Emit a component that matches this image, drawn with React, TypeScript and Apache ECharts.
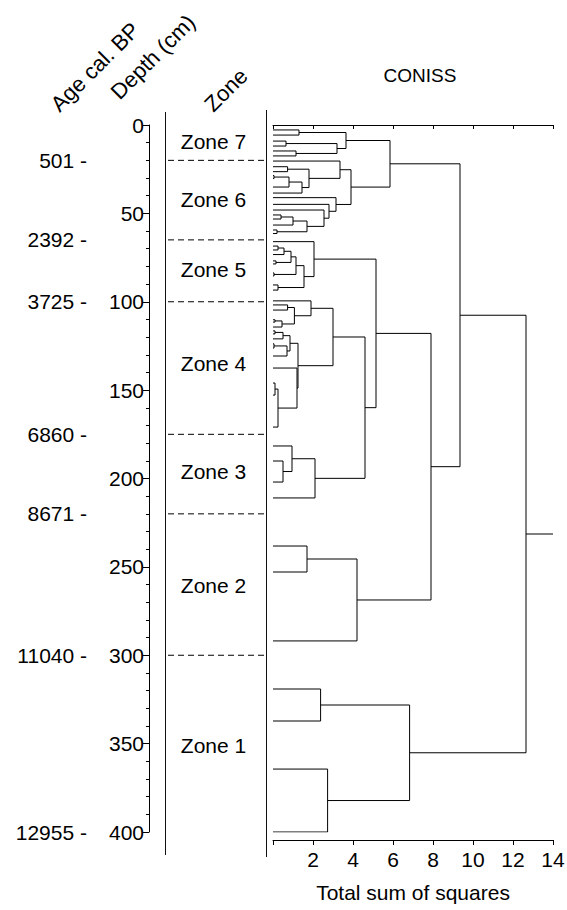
import React, { useEffect, useRef } from 'react';
import * as echarts from 'echarts';

const FONT = '"Liberation Sans", Arial, Helvetica, sans-serif';

// Sample depths (cm) of the dendrogram leaves, top to bottom
const sampleDepths = [
  2.8, 5.7, 9.1, 11.9, 14.7, 17.5,
  20.4, 23.6, 26.4, 28.6, 30.3, 35.1, 38.5, 41.1, 44.9, 48.1, 50.9, 53.2, 56.6, 59.4, 61.4,
  66.0, 68.5, 70.7, 73.3, 76.9, 78.6, 83.7, 85.4, 90.5, 93.4,
  99.5, 101.8, 104.7, 110.2, 111.5, 114.3, 116.5, 118.2, 121.0, 123.8, 126.2, 130.7, 137.5, 146.0, 152.8, 170.9,
  181.6, 190.1, 202.0, 211.0,
  238.2, 252.9, 291.9,
  319.1, 337.2, 364.4, 400,
];

// CONISS merges: [cluster id, left child, right child, total sum of squares]
// numbers = leaf index, strings = earlier cluster id
const merges: [string, number | string, number | string, number][] = [
  ['z7a', 0, 1, 1.3],
  ['z7b', 2, 3, 0.65],
  ['z7c', 4, 5, 1.15],
  ['z7d', 'z7b', 'z7c', 3.2],
  ['z7', 'z7a', 'z7d', 3.65],
  ['z6a', 7, 8, 0.73],
  ['z6b', 9, 10, 0.05],
  ['z6c', 'z6b', 11, 0.8],
  ['z6d', 'z6c', 12, 1.45],
  ['z6e', 'z6a', 'z6d', 1.8],
  ['z6u', 6, 'z6e', 3.35],
  ['z6f', 16, 17, 0.4],
  ['z6g', 'z6f', 18, 1.0],
  ['z6h', 19, 20, 0.2],
  ['z6i', 'z6g', 'z6h', 1.7],
  ['z6j', 15, 'z6i', 2.55],
  ['z6k', 14, 'z6j', 2.8],
  ['z6l', 13, 'z6k', 3.15],
  ['z6', 'z6u', 'z6l', 3.9],
  ['z67', 'z7', 'z6', 5.85],
  ['z5a', 22, 23, 0.25],
  ['z5b', 'z5a', 24, 0.55],
  ['z5c', 25, 26, 0.15],
  ['z5d', 'z5b', 'z5c', 0.9],
  ['z5e', 27, 28, 0.05],
  ['z5f', 'z5d', 'z5e', 1.15],
  ['z5g', 29, 30, 0.25],
  ['z5h', 'z5f', 'z5g', 1.55],
  ['z5', 21, 'z5h', 2.05],
  ['z4a', 32, 33, 0.73],
  ['z4b', 34, 35, 0.1],
  ['z4c', 'z4b', 36, 0.45],
  ['z4d', 'z4a', 'z4c', 1.07],
  ['z4u', 31, 'z4d', 1.9],
  ['z4e', 37, 38, 0.1],
  ['z4f', 'z4e', 39, 0.5],
  ['z4g', 40, 41, 0.05],
  ['z4h', 'z4g', 42, 0.7],
  ['z4i', 'z4f', 'z4h', 0.85],
  ['z4j', 44, 45, 0.1],
  ['z4k', 'z4j', 46, 0.25],
  ['z4l', 43, 'z4k', 1.2],
  ['z4m', 'z4i', 'z4l', 1.25],
  ['z4', 'z4u', 'z4m', 3.0],
  ['z3a', 48, 49, 0.5],
  ['z3b', 47, 'z3a', 0.95],
  ['z3', 'z3b', 50, 2.1],
  ['z34', 'z4', 'z3', 4.6],
  ['z345', 'z5', 'z34', 5.15],
  ['z2a', 51, 52, 1.7],
  ['z2', 'z2a', 53, 4.2],
  ['z2345', 'z345', 'z2', 7.9],
  ['z234567', 'z67', 'z2345', 9.35],
  ['z1a', 54, 55, 2.38],
  ['z1b', 56, 57, 2.73],
  ['z1', 'z1a', 'z1b', 6.83],
  ['root', 'z234567', 'z1', 12.65],
];
const rootStemEnd = 14;

const zoneNames = ['Zone 7', 'Zone 6', 'Zone 5', 'Zone 4', 'Zone 3', 'Zone 2', 'Zone 1'];
const zoneLabelDepths = [9.6, 42.4, 82.0, 135.2, 195.8, 260.8, 350.8];
const zoneBoundaries = [20, 65, 100, 175, 220, 300];

const ageLabels = [501, 2392, 3725, 6860, 8671, 11040, 12955];
const ageDepths = [20, 65, 100, 175, 220, 300, 400];

function buildDendrogram() {
  const pos: Record<string, { y: number; h: number }> = {};
  const get = (r: number | string) =>
    typeof r === 'number' ? { y: sampleDepths[r], h: 0 } : pos[r];
  const segs: { coords: number[][] }[] = [];
  for (const [id, a, b, h] of merges) {
    const A = get(a);
    const B = get(b);
    segs.push({ coords: [[A.h, A.y], [h, A.y], [h, B.y], [B.h, B.y]] });
    pos[id] = { y: (A.y + B.y) / 2, h };
  }
  const root = pos['root'];
  segs.push({ coords: [[root.h, root.y], [rootStemEnd, root.y]] });
  return segs;
}

export default function App() {
  const ref = useRef<HTMLDivElement>(null);
  useEffect(() => {
    if (!ref.current) return;
    const chart = echarts.init(ref.current, undefined, { renderer: 'svg' });
    const black = '#000';
    const depthY = { type: 'value', inverse: true, min: 0, max: 400 };
    const labelItem = { color: 'rgba(0,0,0,0)', opacity: 1 };
    const option: any = {
      animation: false,
      backgroundColor: '#fff',
      textStyle: { fontFamily: FONT },
      grid: [
        { left: 273, top: 125, width: 280, height: 707, outerBoundsMode: 'none' },
        { left: 149, top: 125, width: 1, height: 707, outerBoundsMode: 'none' },
        { left: 165, top: 125, width: 100, height: 707, outerBoundsMode: 'none' },
        { left: 87, top: 125, width: 1, height: 707, outerBoundsMode: 'none' },
      ],
      xAxis: [
        {
          gridIndex: 0, type: 'value', position: 'top', min: 0, max: 14, interval: 2,
          axisLine: { show: true, lineStyle: { color: black, width: 1 } },
          axisTick: { show: true, inside: true, length: 4, lineStyle: { color: black } },
          axisLabel: { show: false },
          splitLine: { show: false },
        },
        {
          gridIndex: 0, type: 'value', position: 'bottom', offset: 8, min: 0, max: 14, interval: 2,
          axisLine: { show: true, lineStyle: { color: black, width: 1 } },
          axisTick: { show: true, length: 5, lineStyle: { color: black } },
          axisLabel: {
            show: true, color: black, fontSize: 21, fontFamily: FONT, margin: 9,
            formatter: (v: number) => (v === 0 ? '' : String(v)),
          },
          splitLine: { show: false },
        },
        { gridIndex: 1, type: 'value', show: false, min: 0, max: 1 },
        { gridIndex: 2, type: 'value', show: false, min: 0, max: 100 },
        { gridIndex: 3, type: 'value', show: false, min: 0, max: 1 },
      ],
      yAxis: [
        { ...depthY, gridIndex: 0, show: false },
        {
          ...depthY, gridIndex: 1, interval: 50, position: 'left',
          axisLine: { show: true, lineStyle: { color: black, width: 1 } },
          axisTick: { show: true, length: 6, lineStyle: { color: black } },
          minorTick: { show: true, splitNumber: 5, length: 3, lineStyle: { color: black } },
          axisLabel: { show: true, color: black, fontSize: 21, fontFamily: FONT, margin: 5 },
          splitLine: { show: false },
          minorSplitLine: { show: false },
        },
        { ...depthY, gridIndex: 2, show: false },
        { ...depthY, gridIndex: 3, show: false },
      ],
      series: [
        {
          type: 'lines', coordinateSystem: 'cartesian2d', xAxisIndex: 0, yAxisIndex: 0,
          polyline: true, silent: true,
          lineStyle: { color: black, width: 1, opacity: 1, curveness: 0 },
          data: buildDendrogram(),
        },
        {
          type: 'lines', coordinateSystem: 'cartesian2d', xAxisIndex: 3, yAxisIndex: 2,
          polyline: true, silent: true,
          lineStyle: { color: black, width: 1, opacity: 1, type: [6, 4] },
          data: zoneBoundaries.map((d) => ({ coords: [[3, d], [100, d]] })),
        },
        {
          type: 'scatter', xAxisIndex: 3, yAxisIndex: 2, silent: true,
          symbolSize: 0, itemStyle: labelItem,
          label: {
            show: true, position: 'inside', color: black, opacity: 1, fontSize: 21, fontFamily: FONT,
            formatter: (p: any) => zoneNames[p.dataIndex],
          },
          data: zoneLabelDepths.map((d) => [48.5, d]),
        },
        {
          type: 'scatter', xAxisIndex: 4, yAxisIndex: 3, silent: true,
          symbolSize: 0, itemStyle: labelItem,
          label: {
            show: true, position: 'left', distance: 0, color: black, opacity: 1, fontSize: 21, fontFamily: FONT,
            formatter: (p: any) => `${ageLabels[p.dataIndex]} -`,
          },
          data: ageDepths.map((d) => [0, d]),
        },
      ],
      graphic: [
        { type: 'line', silent: true, shape: { x1: 165.5, y1: 112, x2: 165.5, y2: 855 }, style: { stroke: '#111', lineWidth: 1 } },
        { type: 'line', silent: true, shape: { x1: 266.5, y1: 110, x2: 266.5, y2: 857 }, style: { stroke: '#111', lineWidth: 1 } },
        { type: 'text', x: 420, y: 75, style: { text: 'CONISS', fontSize: 19, fontFamily: FONT, fill: black, align: 'center', verticalAlign: 'middle' } },
        { type: 'text', x: 413, y: 892, style: { text: 'Total sum of squares', fontSize: 21, fontFamily: FONT, fill: black, align: 'center', verticalAlign: 'middle' } },
        { type: 'text', x: 95, y: 67, rotation: Math.PI / 4, style: { text: 'Age cal. BP', fontSize: 22, fontFamily: FONT, fill: black, align: 'center', verticalAlign: 'middle' } },
        { type: 'text', x: 153, y: 57, rotation: Math.PI / 4, style: { text: 'Depth (cm)', fontSize: 22, fontFamily: FONT, fill: black, align: 'center', verticalAlign: 'middle' } },
        { type: 'text', x: 226, y: 90, rotation: Math.PI / 4, style: { text: 'Zone', fontSize: 22, fontFamily: FONT, fill: black, align: 'center', verticalAlign: 'middle' } },
      ],
    };
    chart.setOption(option);
    return () => chart.dispose();
  }, []);
  return (
    <div
      ref={ref}
      style={{ position: 'fixed', left: 0, top: 0, width: 567, height: 910, background: '#fff' }}
    />
  );
}
